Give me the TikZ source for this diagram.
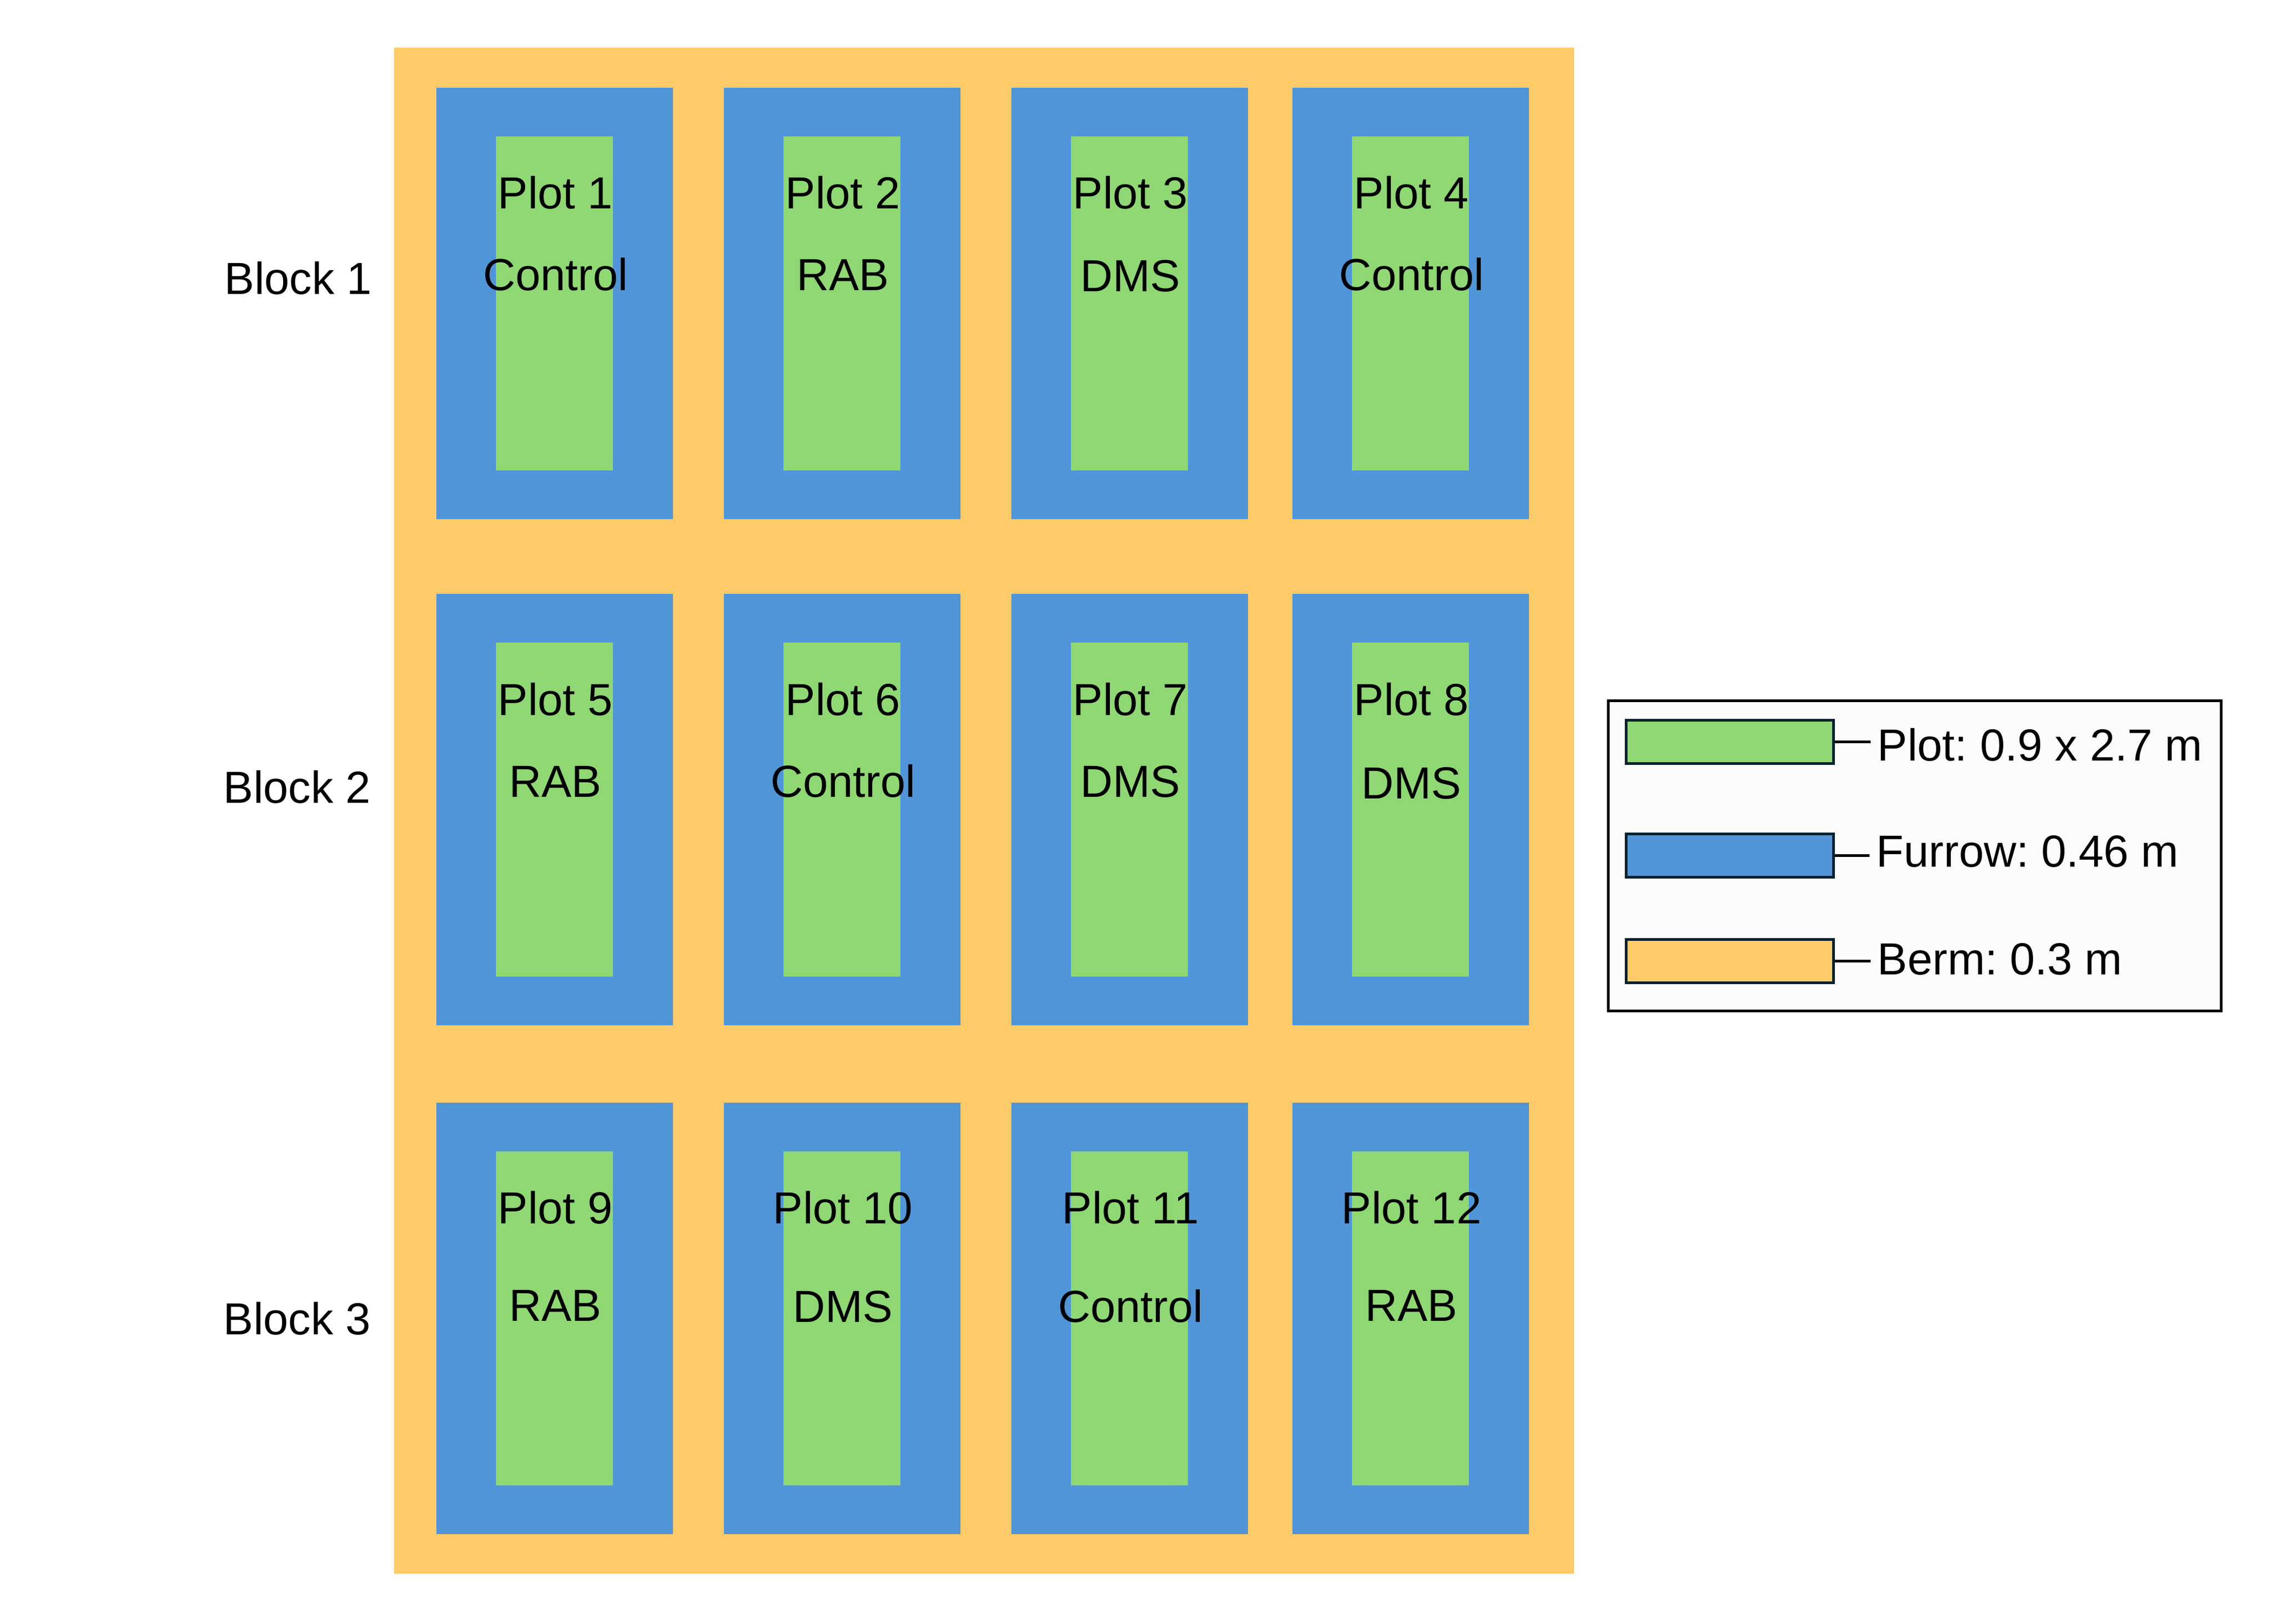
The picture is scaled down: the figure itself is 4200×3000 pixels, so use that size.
\documentclass[tikz,border=0pt]{standalone}
\usepackage{fontspec}
\setmainfont{Liberation Sans}
\frenchspacing
\definecolor{plotgreen}{HTML}{8FD873}
\definecolor{furrowblue}{HTML}{5095D8}
\definecolor{bermorange}{HTML}{FECB68}
\definecolor{swatchedge}{HTML}{052030}
\definecolor{legendbg}{HTML}{FCFCFC}
\begin{document}
\begin{tikzpicture}[x=0.24bp,y=-0.24bp,
  txt/.style={inner sep=0pt, font=\fontsize{20}{24}\selectfont, text=black},
  lbl/.style={txt, anchor=base},
  blk/.style={txt, anchor=base west},
  legtxt/.style={txt, anchor=base west},
  swatch/.style={draw=swatchedge, line width=1.2bp, minimum width=91.9bp, minimum height=19.2bp, inner sep=0pt},
  legline/.style={draw=black, line width=1.2bp},
  legframe/.style={draw=black, line width=1.3bp, fill=legendbg}]
\useasboundingbox (0,0) rectangle (4200,3000);
% berm
\fill[bermorange] (728,88) rectangle (2907,2907);
% furrows and plots
\foreach \bx in {806,1337,1868,2387} {
  \foreach \by in {162,1097,2037} {
    \fill[furrowblue] (\bx,\by) rectangle ++(437,797);
    \fill[plotgreen] (\bx+110,\by+90) rectangle ++(216,617);
  }
}
% block labels
\node[blk] (b1) at (414,543) {Block 1};
\node[blk] (b2) at (412,1483) {Block 2};
\node[blk] (b3) at (412,2465) {Block 3};
% plot labels, block 1
\node[lbl] (p1) at (1026,386) {Plot 1};
\node[lbl] (t1) at (1026,536) {Control};
\node[lbl] (p2) at (1557,386) {Plot 2};
\node[lbl] (t2) at (1557,536) {RAB};
\node[lbl] (p3) at (2088,386) {Plot 3};
\node[lbl] (t3) at (2088,538) {DMS};
\node[lbl] (p4) at (2607,386) {Plot 4};
\node[lbl] (t4) at (2607,536) {Control};
% block 2
\node[lbl] (p5) at (1026,1321) {Plot 5};
\node[lbl] (t5) at (1026,1472) {RAB};
\node[lbl] (p6) at (1557,1321) {Plot 6};
\node[lbl] (t6) at (1557,1472) {Control};
\node[lbl] (p7) at (2088,1321) {Plot 7};
\node[lbl] (t7) at (2088,1472) {DMS};
\node[lbl] (p8) at (2607,1321) {Plot 8};
\node[lbl] (t8) at (2607,1475) {DMS};
% block 3
\node[lbl] (p9) at (1026,2260) {Plot 9};
\node[lbl] (t9) at (1026,2440) {RAB};
\node[lbl] (p10) at (1557,2260) {Plot 10};
\node[lbl] (t10) at (1557,2442) {DMS};
\node[lbl] (p11) at (2088,2260) {Plot 11};
\node[lbl] (t11) at (2088,2442) {Control};
\node[lbl] (p12) at (2607,2260) {Plot 12};
\node[lbl] (t12) at (2607,2440) {RAB};
% legend
\path[legframe] (2970.5,1294.5) rectangle (4102.5,1867.5);
\node[swatch, fill=plotgreen] (s1) at (3194.5,1370) {};
\node[swatch, fill=furrowblue] (s2) at (3194.5,1580) {};
\node[swatch, fill=bermorange] (s3) at (3194.5,1775.5) {};
\coordinate (e1) at (3455,1370);
\coordinate (e2) at (3453,1580);
\coordinate (e3) at (3455,1775.5);
\draw[legline] (s1.east) -- (e1);
\draw[legline] (s2.east) -- (e2);
\draw[legline] (s3.east) -- (e3);
\node[legtxt] (l1) at (3467,1405) {Plot: 0.9 x 2.7 m};
\node[legtxt] (l2) at (3465,1601) {Furrow: 0.46 m};
\node[legtxt] (l3) at (3467,1800) {Berm: 0.3 m};
\end{tikzpicture}
\end{document}
